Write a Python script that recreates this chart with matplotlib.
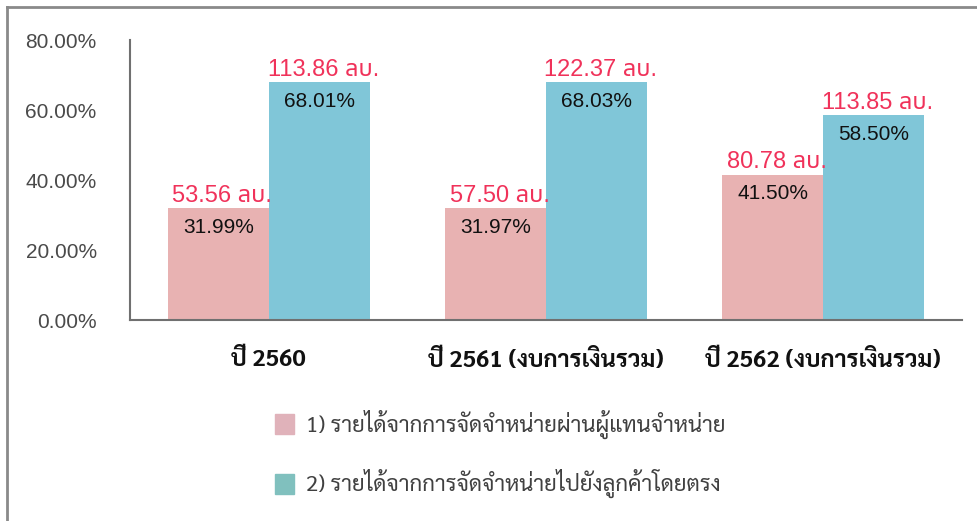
import numpy as np
import matplotlib
matplotlib.use("Agg")
import matplotlib.pyplot as plt
from matplotlib.patches import Patch
from matplotlib.lines import Line2D

categories = ["ปี 2560", "ปี 2561 (งบการเงินรวม)", "ปี 2562 (งบการเงินรวม)"]
dealer_pct = [31.99, 31.97, 41.50]
direct_pct = [68.01, 68.03, 58.50]
dealer_mb = [53.56, 57.50, 80.78]
direct_mb = [113.86, 122.37, 113.85]
series_names = ["1) รายได้จากการจัดจำหน่ายผ่านผู้แทนจำหน่าย",
                "2) รายได้จากการจัดจำหน่ายไปยังลูกค้าโดยตรง"]

pink = "#E8B2B2"
blue = "#80C6D8"
red = "#F0325A"
num_font = ["Liberation Sans", "Noto Sans Thai"]
label_font = ["Sarabun", "Noto Sans Thai", "Liberation Sans"]

fig = plt.figure(figsize=(9.78, 5.21), dpi=100)
ax = fig.add_axes([130 / 978, 1 - 320 / 521, 832 / 978, 280 / 521])

x = np.arange(len(categories))
w = 0.364
b1 = ax.bar(x - w / 2, dealer_pct, w, color=pink, zorder=1)
b2 = ax.bar(x + w / 2, direct_pct, w, color=blue, zorder=1)

for bars, pct, mb in [(b1, dealer_pct, dealer_mb), (b2, direct_pct, direct_mb)]:
    for r, p, m in zip(bars, pct, mb):
        cx = r.get_x() + r.get_width() / 2
        ax.annotate("%.2f%%" % p, (cx, p), xytext=(0, -7), textcoords="offset points",
                    ha="center", va="top", fontsize=15, color="#111111",
                    family=num_font, zorder=5)
        ax.annotate("%.2f ลบ." % m, (cx, p), xytext=(3, 4.5), textcoords="offset points",
                    ha="center", va="baseline", fontsize=17, color=red,
                    family=num_font, zorder=5)

ax.set_xlim(-0.5, 2.5)
ax.set_ylim(0, 80)
ax.set_yticks([0, 20, 40, 60, 80])
ax.set_yticklabels(["%.2f%%" % v for v in [0, 20, 40, 60, 80]],
                   fontsize=15, color="#4a4a4a", family=num_font)
ax.set_xticks(x)
ax.set_xticklabels(categories, fontsize=17, fontweight="bold", color="#111111",
                   family=label_font)
ax.tick_params(axis="y", length=0, pad=24)
ax.tick_params(axis="x", length=0, pad=21)
for s in ["top", "right"]:
    ax.spines[s].set_visible(False)
for s in ["left", "bottom"]:
    ax.spines[s].set_color("#707070")
    ax.spines[s].set_linewidth(1.5)

handles = [Patch(color="#E0B2BA"), Patch(color="#80C0BE")]
leg = fig.legend(handles, series_names, loc="upper left",
                 bbox_to_anchor=(275 / 978, 1 - 410 / 521), frameon=False,
                 prop={"family": label_font, "size": 16},
                 handlelength=0.85, handleheight=1.0, handletextpad=0.55,
                 labelspacing=1.35, borderpad=0, borderaxespad=0)
for t in leg.get_texts():
    t.set_color("#404040")

# outer frame (top and left edges only)
fig.add_artist(Line2D([7 / 978, 1], [1 - 7 / 521, 1 - 7 / 521], color="#8a8a8a", lw=2))
fig.add_artist(Line2D([7 / 978, 7 / 978], [0, 1 - 7 / 521], color="#8a8a8a", lw=2))

fig.savefig("out.png", dpi=100)
